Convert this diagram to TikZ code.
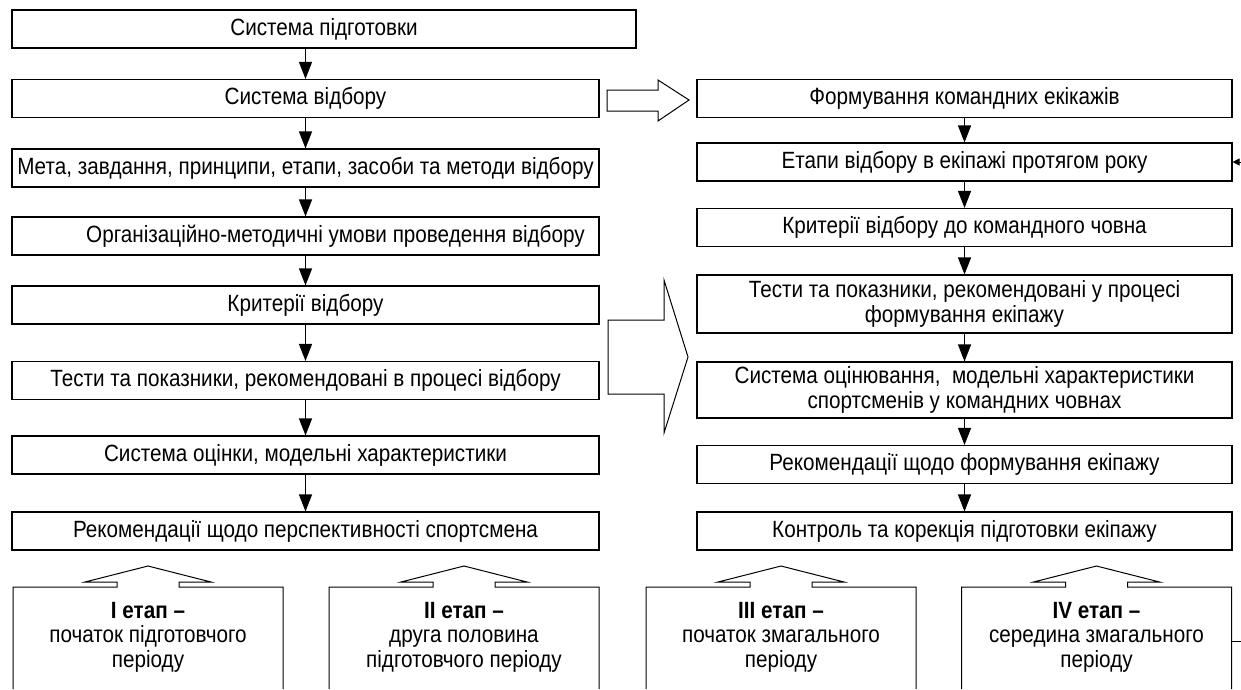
\documentclass[tikz,border=0pt]{standalone}
\usepackage{fontspec}
\setmainfont{Liberation Sans}[FakeStretch=0.88]
\usetikzlibrary{arrows.meta}
\begin{document}
\begin{tikzpicture}[x=1pt,y=-1pt,
  box/.style={draw=black, line width=1.1pt, minimum height=38pt, inner sep=0pt, align=center, font=\fontsize{23.5}{25.5}\selectfont},
  lbox/.style={box, minimum width=587pt},
  rbox/.style={box, minimum width=535pt},
  arr/.style={line width=1.1pt, -{Triangle[length=17pt,width=13pt]}},
  smallarr/.style={line width=1pt, -{Triangle[length=7pt,width=7pt]}},
  hol/.style={draw=black, line width=1pt, line join=miter},
  stg/.style={align=center, font=\fontsize{23.5}{24.5}\selectfont, inner sep=0pt, anchor=north},
]
\useasboundingbox (0,0) rectangle (1241,689);

% left column
\node[box, minimum width=624pt] (b1) at (324,29) {Система підготовки};
\node[lbox] (b2) at (305.5,98.5) {Система відбору};
\node[lbox] (b3) at (305.5,168) {Мета, завдання, принципи, етапи, засоби та методи відбору};
\node[lbox] (b4) at (305.5,236) {\hspace*{60pt}Організаційно-методичні умови проведення відбору};
\node[lbox] (b5) at (305.5,305) {Критерії відбору};
\node[lbox] (b6) at (305.5,380.5) {Тести та показники, рекомендовані в процесі відбору};
\node[lbox] (b7) at (305.5,455) {Система оцінки, модельні характеристики};
\node[lbox] (b8) at (305.5,531) {Рекомендації щодо перспективності спортсмена};

\draw[arr] (b2.north |- b1.south) -- (b2.north);
\draw[arr] (b2) -- (b3);
\draw[arr] (b3) -- (b4);
\draw[arr] (b4) -- (b5);
\draw[arr] (b5) -- (b6);
\draw[arr] (b6) -- (b7);
\draw[arr] (b7) -- (b8);

% right column
\node[rbox] (r1) at (964.5,98.5) {Формування командних екікажів};
\node[rbox] (r2) at (964.5,162) {Етапи відбору в екіпажі протягом року};
\node[rbox] (r3) at (964.5,227.5) {Критерії відбору до командного човна};
\node[rbox, minimum height=58pt] (r4) at (964.5,304) {Тести та показники, рекомендовані у процесі\\формування екіпажу};
\node[rbox, minimum height=56pt] (r5) at (964.5,390) {Система оцінювання,~ модельні характеристики\\спортсменів у командних човнах};
\node[rbox] (r6) at (964.5,464.5) {Рекомендації щодо формування екіпажу};
\node[rbox] (r7) at (964.5,531) {Контроль та корекція підготовки екіпажу};

\draw[arr] (r1) -- (r2);
\draw[arr] (r2) -- (r3);
\draw[arr] (r3) -- (r4);
\draw[arr] (r4) -- (r5);
\draw[arr] (r5) -- (r6);
\draw[arr] (r6) -- (r7);

\coordinate (rin) at (1241,162);
\draw[smallarr] (rin) -- (r2.east);

% hollow arrows
\draw[hol] (607,90) -- (658,90) -- (658,80) -- (689,100) -- (658,121) -- (658,111) -- (607,111) -- cycle;
\draw[hol] (608,320) -- (664,320) -- (664,280) -- (688,357) -- (664,433) -- (664,394) -- (608,394) -- cycle;

% stage boxes
\foreach \c in {148,464,781,1096.5}{
  \draw[hol] (\c-135,689) -- (\c-135,587) -- (\c-31,587) -- (\c-31,582) -- (\c-63,582) -- (\c,566)
    -- (\c+63,582) -- (\c+31,582) -- (\c+31,587) -- (\c+135,587) -- (\c+135,689);
}
\node[stg] (s1) at (148,602) {\textbf{I етап –}\\початок підготовчого\\періоду};
\node[stg] (s2) at (464,602) {\textbf{II етап –}\\друга половина\\підготовчого періоду};
\node[stg] (s3) at (781,602) {\textbf{III етап –}\\початок змагального\\періоду};
\node[stg] (s4) at (1096.5,602) {\textbf{IV етап –}\\середина змагального\\періоду};

\coordinate (rout) at (1241,641);
\draw[line width=1pt] (1231.5,641) -- (rout);
\end{tikzpicture}
\end{document}
